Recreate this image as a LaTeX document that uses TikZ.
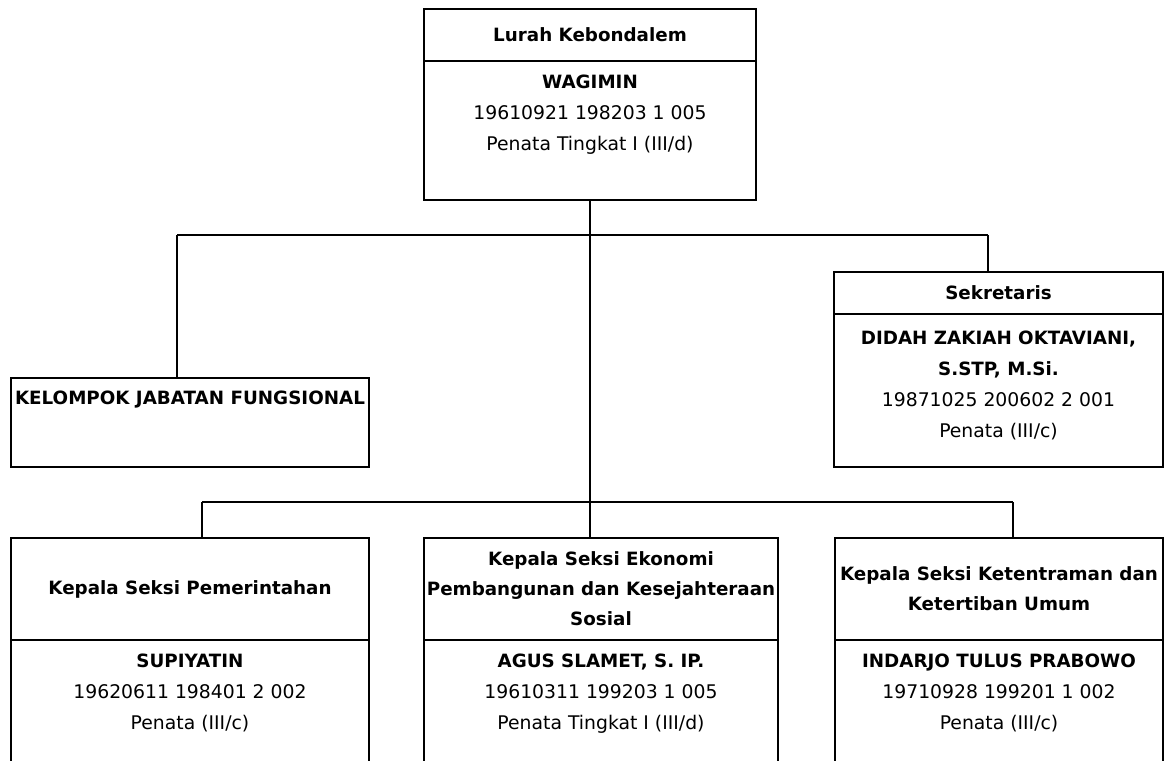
\documentclass[tikz,border=0pt]{standalone}
\usepackage{fontspec}
\setmainfont{DejaVu Sans}
\newcommand{\bnm}[1]{{\fontsize{18.3}{31}\selectfont\bfseries #1}}
\begin{document}
\begin{tikzpicture}[x=1pt,y=-1pt,
  box/.style={draw, line width=2.8pt, inner sep=0pt, outer sep=0pt, anchor=north west},
  ttl/.style={align=center, inner sep=0pt, font=\fontsize{18.3}{30}\selectfont\bfseries},
  bodytxt/.style={align=center, inner sep=0pt, anchor=north, font=\fontsize{18.8}{31}\selectfont},
  conn/.style={line width=2.2pt}]
\useasboundingbox (0,0) rectangle (1166,760);
\clip (0,0) rectangle (1166,760);
\fill[white] (0,0) rectangle (1166,760);

% Lurah
\node[box, minimum width=332pt, minimum height=52pt] (lurahT) at (424,9) {};
\node[box, minimum width=332pt, minimum height=139pt] (lurahB) at (424,61) {};
\node[ttl] (lurahTt) at (lurahT.center) {Lurah Kebondalem};
\node[bodytxt] (lurahBt) at ([yshift=-14pt]lurahB.north) {\bnm{WAGIMIN}\\19610921 198203 1 005\\Penata Tingkat I (III/d)};

% Kelompok Jabatan Fungsional
\node[box, minimum width=358pt, minimum height=89pt] (kjf) at (11,378) {};
\node[ttl, anchor=north] (kjft) at ([yshift=-13pt]kjf.north) {KELOMPOK JABATAN FUNGSIONAL};

% Sekretaris
\node[box, minimum width=329pt, minimum height=42pt] (sekT) at (834,272) {};
\node[box, minimum width=329pt, minimum height=153pt] (sekB) at (834,314) {};
\node[ttl] (sekTt) at (sekT.center) {Sekretaris};
\node[bodytxt] (sekBt) at ([yshift=-17pt]sekB.north) {\bnm{DIDAH ZAKIAH OKTAVIANI,}\\\bnm{S.STP, M.Si.}\\19871025 200602 2 001\\Penata (III/c)};

% Kepala Seksi Pemerintahan
\node[box, minimum width=358pt, minimum height=102pt] (kspT) at (11,538) {};
\node[box, minimum width=358pt, minimum height=150pt] (kspB) at (11,640) {};
\node[ttl] (kspTt) at (kspT.center) {Kepala Seksi Pemerintahan};
\node[bodytxt] (kspBt) at ([yshift=-14pt]kspB.north) {\bnm{SUPIYATIN}\\19620611 198401 2 002\\Penata (III/c)};

% Kepala Seksi Ekonomi
\node[box, minimum width=354pt, minimum height=102pt] (ekoT) at (424,538) {};
\node[box, minimum width=354pt, minimum height=150pt] (ekoB) at (424,640) {};
\node[ttl] (ekoTt) at (ekoT.center) {Kepala Seksi Ekonomi\\Pembangunan dan Kesejahteraan\\Sosial};
\node[bodytxt] (ekoBt) at ([yshift=-14pt]ekoB.north) {\bnm{AGUS SLAMET, S. IP.}\\19610311 199203 1 005\\Penata Tingkat I (III/d)};

% Kepala Seksi Ketentraman
\node[box, minimum width=328pt, minimum height=102pt] (kttT) at (835,538) {};
\node[box, minimum width=328pt, minimum height=150pt] (kttB) at (835,640) {};
\node[ttl] (kttTt) at (kttT.center) {Kepala Seksi Ketentraman dan\\Ketertiban Umum};
\node[bodytxt] (kttBt) at ([yshift=-14pt]kttB.north) {\bnm{INDARJO TULUS PRABOWO}\\19710928 199201 1 002\\Penata (III/c)};

% connectors
\coordinate (busL) at (177,235);
\coordinate (busR) at (988,235);
\coordinate (lbL) at (202,502);
\coordinate (lbR) at (1013,502);
\coordinate (j2) at (lurahB.south |- lbL);
\draw[conn] (busL) -- (busR);
\draw[conn] (busL) -- (busL |- kjf.north);
\draw[conn] (busR) -- (busR |- sekT.north);
\draw[conn] (lurahB.south) -- (j2);
\draw[conn] (lbL) -- (lbR);
\draw[conn] (lbL) -- (lbL |- kspT.north);
\draw[conn] (j2) -- (j2 |- ekoT.north);
\draw[conn] (lbR) -- (lbR |- kttT.north);
\end{tikzpicture}
\end{document}
